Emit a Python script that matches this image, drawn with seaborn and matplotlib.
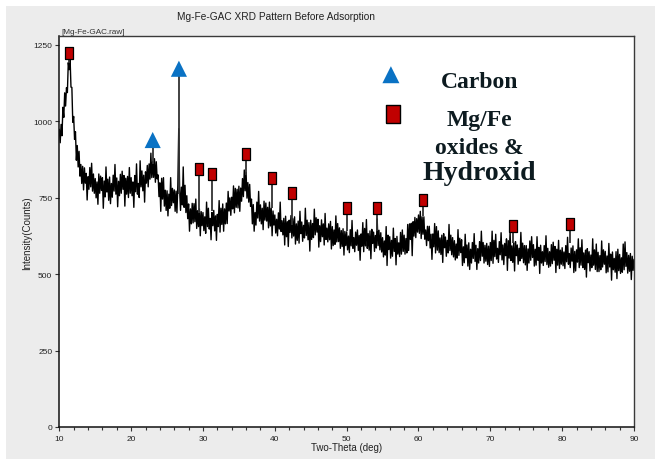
import numpy as np
import matplotlib
matplotlib.use("Agg")
import matplotlib.pyplot as plt
from matplotlib.patches import Rectangle
from matplotlib.ticker import MultipleLocator
import seaborn as sns

sns.set_style("white")
plt.rcParams["font.family"] = ["Liberation Sans", "DejaVu Sans"]

# Scan settings: 10-90 deg two-theta, 0.125 deg step
theta_start = 10.0
theta_step = 0.125

# Measured intensity (counts), one row per 2.5 deg
intensity = [
    973, 929, 989, 952, 1045, 1012, 1092, 1049, 1109, 1093, 1191, 1168, 1205, 1111, 1110, 996, 1015, 940, 965, 872,
    920, 850, 901, 820, 858, 796, 852, 775, 847, 797, 829, 742, 818, 777, 848, 785, 862, 771, 827, 764,
    812, 749, 801, 728, 827, 764, 820, 773, 815, 715, 804, 752, 850, 768, 810, 741, 817, 730, 796, 751,
    823, 771, 858, 761, 814, 720, 803, 756, 826, 764, 836, 777, 822, 722, 813, 761, 819, 750, 848, 764,
    815, 756, 801, 718, 822, 769, 860, 761, 796, 750, 870, 785, 837, 772, 823, 735, 834, 797, 855, 785,
    860, 810, 895, 815, 868, 816, 877, 800, 867, 811, 824, 753, 798, 705, 813, 745, 815, 722, 774, 708,
    772, 690, 761, 715, 815, 724, 780, 733, 775, 705, 771, 700, 790, 975, 777, 708, 784, 726, 850, 718,
    790, 701, 756, 681, 729, 640, 713, 664, 731, 667, 730, 671, 745, 649, 707, 655, 713, 625, 704, 658,
    701, 642, 687, 633, 735, 655, 715, 647, 682, 612, 701, 658, 708, 641, 690, 610, 695, 655, 740, 637,
    715, 662, 729, 640, 713, 664, 732, 665, 770, 706, 749, 692, 751, 713, 788, 700, 780, 718, 777, 716,
    787, 705, 781, 738, 812, 753, 840, 772, 832, 748, 799, 735, 793, 721, 745, 664, 727, 640, 701, 660,
    735, 683, 770, 673, 726, 664, 715, 645, 738, 676, 732, 673, 718, 651, 735, 657, 715, 625, 706, 660,
    693, 634, 679, 625, 700, 647, 735, 639, 674, 628, 682, 595, 689, 622, 671, 590, 676, 636, 691, 618,
    681, 624, 687, 598, 664, 610, 673, 601, 705, 632, 670, 607, 659, 618, 715, 626, 676, 612, 668, 575,
    676, 613, 665, 619, 712, 628, 684, 637, 679, 588, 658, 606, 677, 622, 664, 595, 698, 613, 650, 605,
    664, 612, 672, 582, 655, 593, 644, 597, 690, 605, 665, 606, 651, 584, 642, 590, 648, 562, 639, 593,
    638, 579, 624, 570, 645, 592, 675, 584, 619, 573, 637, 594, 644, 577, 626, 545, 631, 591, 668, 573,
    649, 592, 678, 584, 632, 578, 641, 550, 646, 600, 637, 574, 626, 585, 680, 593, 643, 579, 635, 572,
    619, 556, 608, 562, 655, 528, 627, 580, 622, 552, 610, 558, 650, 574, 616, 530, 623, 565, 602, 557,
    636, 565, 644, 574, 627, 565, 616, 569, 662, 577, 664, 613, 666, 560, 671, 624, 685, 619, 681, 637,
    693, 633, 705, 616, 687, 630, 687, 614, 644, 593, 656, 609, 656, 585, 630, 548, 631, 589, 665, 569,
    655, 578, 641, 570, 618, 564, 627, 538, 632, 586, 621, 558, 610, 569, 662, 577, 627, 563, 619, 556,
    609, 546, 598, 552, 645, 561, 617, 570, 612, 528, 589, 537, 630, 553, 595, 526, 602, 515, 581, 536,
    603, 551, 632, 541, 594, 515, 583, 536, 606, 544, 640, 558, 603, 536, 594, 542, 600, 531, 591, 525,
    603, 544, 640, 535, 610, 557, 630, 549, 584, 538, 606, 563, 635, 546, 595, 531, 600, 560, 615, 512,
    609, 552, 638, 544, 592, 538, 601, 510, 606, 560, 595, 532, 584, 543, 636, 551, 601, 537, 593, 530,
    593, 512, 582, 536, 608, 545, 622, 554, 596, 526, 581, 529, 622, 545, 587, 502, 594, 536, 573, 528,
    593, 541, 625, 531, 584, 522, 573, 526, 596, 534, 604, 545, 590, 505, 581, 529, 610, 518, 578, 532,
    586, 527, 572, 518, 593, 540, 620, 532, 567, 521, 585, 542, 592, 505, 574, 510, 579, 539, 615, 521,
    586, 529, 612, 521, 569, 515, 578, 490, 583, 537, 573, 510, 562, 521, 615, 529, 579, 515, 598, 508,
    571, 508, 560, 514, 608, 523, 579, 532, 574, 504, 559, 507, 600, 523, 565, 480, 572, 514, 551, 506,
    573, 485, 581, 511, 564, 502, 553, 506, 598, 514, 605, 525, 570, 503, 561, 509, 567, 482, 558, 512,
    548,
]
two_theta = theta_start + theta_step * np.arange(len(intensity))

# Carbon reflections: marker height and foot of the drop line
carbon_theta = [23.0, 26.65]
carbon_mark = [938, 1171]
carbon_foot = [860, 760]

# Mg/Fe oxide & hydroxide reflections
mgfe_theta = [11.4, 29.5, 31.2, 36.05, 39.6, 42.4, 50.1, 54.25, 60.6, 73.2, 81.1]
mgfe_mark = [1222, 844, 827, 892, 814, 765, 716, 716, 742, 657, 664]
mgfe_foot = [1190, 700, 705, 825, 715, 660, 640, 640, 690, 600, 600]

RED = "#c00000"
BLUE = "#0a72c4"
INK = "#0d1b20"

W, H = 655, 460
fig = plt.figure(figsize=(W / 100, H / 100), dpi=100, facecolor="white")
fig.patches.append(Rectangle((6 / W, 0), 1, 1 - 7 / H, transform=fig.transFigure,
                             facecolor="#ececec", edgecolor="none", zorder=-10))
ax = fig.add_axes([59.3 / W, 32 / H, 574.7 / W, 391 / H])
ax.set_facecolor("white")

sns.lineplot(x=two_theta, y=intensity, ax=ax, color="black", linewidth=1.0,
             estimator=None, sort=False, zorder=2)

# drop lines from each phase marker to its reflection
ax.vlines(carbon_theta, carbon_foot, carbon_mark, color="#333333", lw=1.3, zorder=3)
ax.vlines(mgfe_theta, mgfe_foot, mgfe_mark, color="#333333", lw=1.3, zorder=3)

tall_rect = [(-0.385, -0.5), (0.385, -0.5), (0.385, 0.5), (-0.385, 0.5), (-0.385, -0.5)]
sns.scatterplot(x=mgfe_theta, y=mgfe_mark, ax=ax, marker=tall_rect, s=64,
                color=RED, edgecolor="black", linewidth=0.9, zorder=5)
sns.scatterplot(x=carbon_theta, y=carbon_mark, ax=ax, marker="^", s=135,
                color=BLUE, edgecolor="none", linewidth=0, zorder=5)

ax.set_xlim(10, 90)
ax.set_ylim(0, 1278)
ax.set_xlabel("")
ax.set_ylabel("")
ax.xaxis.set_major_locator(MultipleLocator(10))
ax.xaxis.set_minor_locator(MultipleLocator(2))
ax.yaxis.set_major_locator(MultipleLocator(250))
ax.tick_params(axis="both", which="major", length=3, width=0.8, color="#333333",
               labelsize=6, labelcolor="#222222", direction="out")
ax.tick_params(axis="x", which="major", pad=3, bottom=True)
ax.tick_params(axis="x", which="minor", length=2, width=0.8, color="#333333", bottom=True)
ax.tick_params(axis="y", which="major", pad=2, left=True)
for side in ["left", "bottom"]:
    ax.spines[side].set_color("#111111")
    ax.spines[side].set_linewidth(1.1)
for side in ["top", "right"]:
    ax.spines[side].set_color("#3a3a3a")
    ax.spines[side].set_linewidth(1.0)

# key inside the plot area
leg_rect = [(-0.44, -0.5), (0.44, -0.5), (0.44, 0.5), (-0.44, 0.5), (-0.44, -0.5)]
ax.scatter([0.577], [0.901], transform=ax.transAxes, marker="^", s=150,
           color=BLUE, edgecolor="none", zorder=6, clip_on=False)
ax.scatter([0.5815], [0.800], transform=ax.transAxes, marker=leg_rect, s=150,
           color=RED, edgecolor="black", linewidth=1.0, zorder=6, clip_on=False)
serif = ["Liberation Serif", "DejaVu Serif"]
ax.text(0.731, 0.869, "Carbon", transform=ax.transAxes, ha="center", va="baseline",
        family=serif, weight="bold", size=17, color=INK)
ax.text(0.731, 0.773, "Mg/Fe", transform=ax.transAxes, ha="center", va="baseline",
        family=serif, weight="bold", size=17, color=INK)
ax.text(0.731, 0.701, "oxides &", transform=ax.transAxes, ha="center", va="baseline",
        family=serif, weight="bold", size=17, color=INK)
ax.text(0.731, 0.634, "Hydroxid", transform=ax.transAxes, ha="center", va="baseline",
        family=serif, weight="bold", size=20, color=INK)

fig.text(276 / W, 1 - 17.5 / H, "Mg-Fe-GAC XRD Pattern Before Adsorption",
         ha="center", va="center", size=7.3, color="#222222")
fig.text(61.5 / W, 1 - 33 / H, "[Mg-Fe-GAC.raw]", ha="left", va="center",
         size=5.9, color="#333333")
fig.text(346.5 / W, 1 - 447.7 / H, "Two-Theta (deg)", ha="center", va="center",
         size=7, color="#222222")
fig.text(27 / W, 1 - 233 / H, "Intensity(Counts)", ha="center", va="center",
         rotation=90, size=7, color="#222222")

fig.savefig("out.png", dpi=100, facecolor=fig.get_facecolor())
